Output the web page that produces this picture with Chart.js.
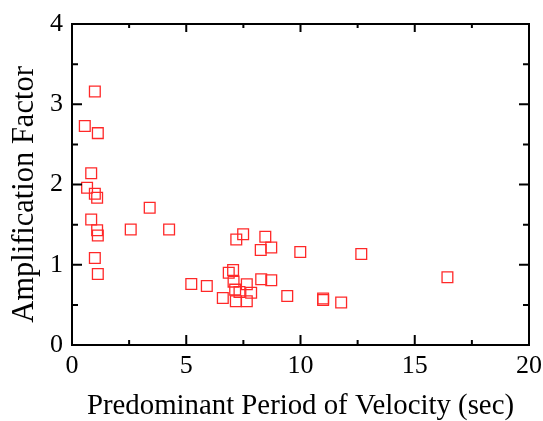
<!DOCTYPE html>
<html>
<head>
<meta charset="utf-8">
<script src="https://cdn.jsdelivr.net/npm/chart.js@4"></script>
<style>
html,body{margin:0;padding:0;background:#fff;}
#wrap{width:543px;height:421px;}
</style>
</head>
<body>
<div id="wrap"><canvas id="c" width="543" height="421"></canvas></div>
<script>
// Predominant period of velocity (sec)
const periods = [1.0, 0.56, 1.13, 0.84, 0.66, 1.0, 1.10, 3.40, 0.84, 2.57, 4.25, 1.10, 1.13, 1.0, 1.13,
  5.22, 5.9, 6.6, 7.19, 7.49, 8.46, 8.26, 8.72, 9.99, 12.66, 6.86, 7.05, 7.07, 7.14, 7.33, 7.65, 7.84,
  7.17, 7.65, 8.28, 8.72, 9.42, 10.99, 10.99, 11.78, 16.43];
// Amplification factor
const factors = [3.16, 2.73, 2.64, 2.14, 1.96, 1.885, 1.835, 1.71, 1.565, 1.44, 1.44, 1.43, 1.365, 1.085, 0.885,
  0.76, 0.735, 0.585, 1.315, 1.38, 1.35, 1.185, 1.215, 1.16, 1.135, 0.90, 0.935, 0.79, 0.69, 0.66, 0.756, 0.65,
  0.544, 0.544, 0.82, 0.806, 0.61, 0.58, 0.56, 0.53, 0.844];
const xTicks = [0, 5, 10, 15, 20];
const yTicks = [0, 1, 2, 3, 4];
const xMinor = [2.5, 7.5, 12.5, 17.5];
const yMinor = [0.5, 1.5, 2.5, 3.5];
const xTitle = 'Predominant Period of Velocity (sec)';
const yTitle = 'Amplification Factor';

const points = periods.map((p, i) => ({x: p, y: factors[i]}));
const serif = '"Liberation Serif", "Times New Roman", serif';

const frame = {
  id: 'frame',
  afterDraw(chart) {
    const {ctx, chartArea: a} = chart;
    const xs = chart.scales.x, ys = chart.scales.y;
    ctx.save();
    ctx.strokeStyle = '#000';
    ctx.lineWidth = 2;
    ctx.beginPath();
    ctx.rect(a.left, a.top, a.right - a.left, a.bottom - a.top);
    ctx.stroke();
    ctx.beginPath();
    const tick = (vals, len, lenTop) => {
      vals.forEach(v => {
        const px = xs.getPixelForValue(v);
        ctx.moveTo(px, a.bottom); ctx.lineTo(px, a.bottom - len);
        ctx.moveTo(px, a.top); ctx.lineTo(px, a.top + lenTop);
      });
    };
    const tickY = (vals, len) => {
      vals.forEach(v => {
        const py = ys.getPixelForValue(v);
        ctx.moveTo(a.left, py); ctx.lineTo(a.left + len, py);
        ctx.moveTo(a.right, py); ctx.lineTo(a.right - len, py);
      });
    };
    tick(xTicks, 10, 8);
    tick(xMinor, 5, 4);
    tickY(yTicks, 10);
    tickY(yMinor, 6);
    ctx.stroke();
    // y axis title
    ctx.fillStyle = '#000';
    ctx.font = '30.5px ' + serif;
    ctx.textAlign = 'center';
    ctx.textBaseline = 'middle';
    ctx.translate(25, (a.top + a.bottom) / 2 + 10);
    ctx.rotate(-Math.PI / 2);
    ctx.fillText(yTitle, 0, 0);
    ctx.restore();
  }
};

new Chart(document.getElementById('c'), {
  type: 'scatter',
  data: {
    datasets: [{
      data: points,
      pointStyle: 'rect',
      pointRadius: 7.6,
      pointHoverRadius: 7.6,
      borderColor: 'rgb(255,40,40)',
      backgroundColor: 'rgba(0,0,0,0)',
      borderWidth: 1.3
    }]
  },
  options: {
    responsive: false,
    animation: false,
    events: [],
    layout: {padding: {top: 24, right: 14, left: 0, bottom: 0}},
    plugins: {legend: {display: false}, tooltip: {enabled: false}},
    scales: {
      x: {
        type: 'linear', min: 0, max: 20,
        afterFit(s) { s.height = 76; s.paddingLeft = 0; s.paddingRight = 0; },
        afterBuildTicks(s) { s.ticks = xTicks.map(v => ({value: v})); },
        grid: {display: false, drawTicks: false},
        border: {display: false},
        ticks: {color: '#000', font: {family: serif, size: 26}, padding: 6, maxRotation: 0},
        title: {display: true, text: xTitle, color: '#000', font: {family: serif, size: 28.8}, padding: {top: 0, bottom: -3}}
      },
      y: {
        type: 'linear', min: 0, max: 4,
        afterFit(s) { s.width = 72; s.paddingTop = 0; s.paddingBottom = 0; },
        afterBuildTicks(s) { s.ticks = yTicks.map(v => ({value: v})); },
        grid: {display: false, drawTicks: false},
        border: {display: false},
        ticks: {color: '#000', font: {family: serif, size: 26}, padding: 9},
        title: {display: false}
      }
    }
  },
  plugins: [frame]
});
</script>
</body>
</html>
